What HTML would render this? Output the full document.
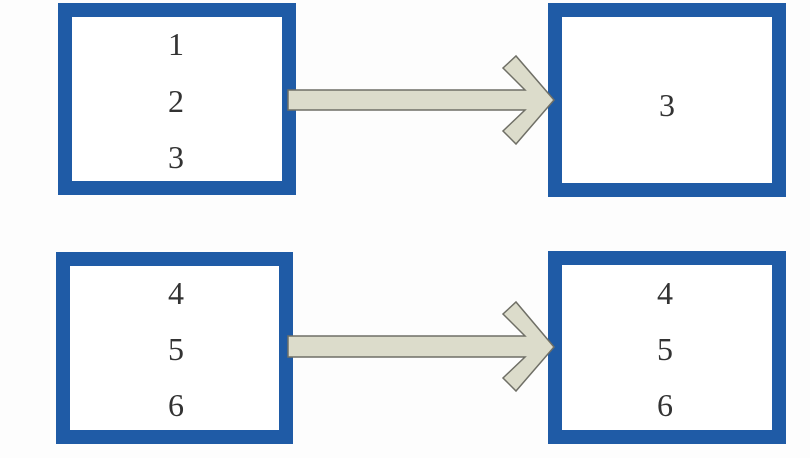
<!DOCTYPE html>
<html><head><style>
html,body{margin:0;padding:0;background:#fdfdfd;}
svg{display:block}
text{font-family:"Liberation Serif",serif;font-size:32px;fill:#333;text-anchor:middle;dominant-baseline:central}
</style></head><body>
<svg width="810" height="458" viewBox="0 0 810 458">
<g fill="#fff" stroke="#1f5ba6" stroke-width="14">
<rect x="65" y="10" width="224" height="178"/>
<rect x="555" y="10" width="224" height="180"/>
<rect x="63" y="259" width="223" height="178"/>
<rect x="555" y="258" width="224" height="179"/>
</g>
<g fill="#dcdccb" stroke="#6f6f66" stroke-width="1.5">
<polygon points="288,90 525,90 503,68 516,56 554,100 516,144 503,131 525,110 288,110"/>
<polygon points="288,336 525,336 503,314 516,302 554,347 516,391 503,378 525,357 288,357"/>
</g>
<text x="176" y="44">1</text>
<text x="176" y="101">2</text>
<text x="176" y="157">3</text>
<text x="667" y="105">3</text>
<text x="176" y="293">4</text>
<text x="176" y="349">5</text>
<text x="176" y="405">6</text>
<text x="665" y="293">4</text>
<text x="665" y="349">5</text>
<text x="665" y="405">6</text>
</svg>
</body></html>
